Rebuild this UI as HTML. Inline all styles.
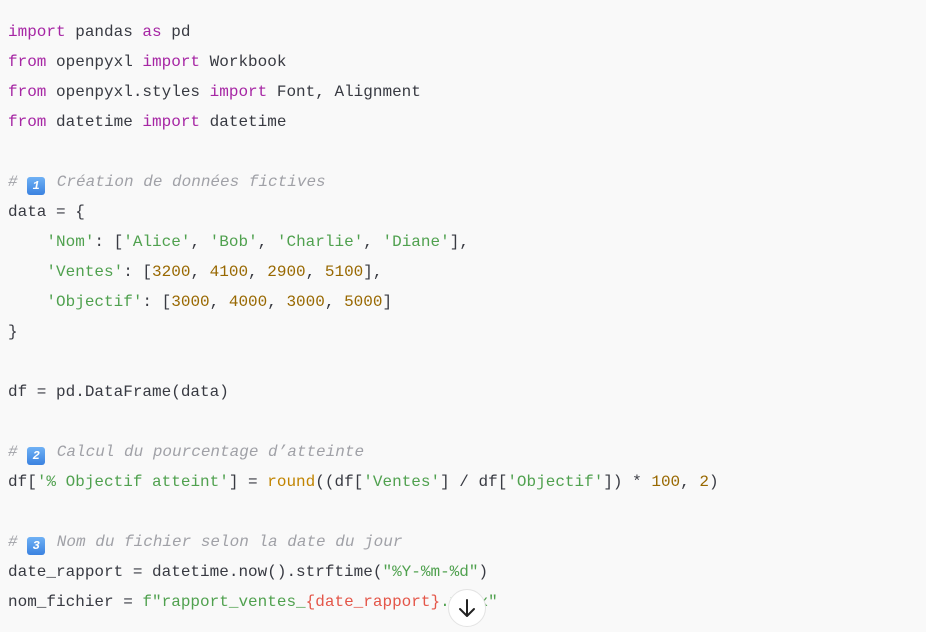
<!DOCTYPE html>
<html><head><meta charset="utf-8"><style>
body{margin:0;background:#f9f9f9;width:926px;height:632px;overflow:hidden;position:relative}
pre{position:absolute;left:8px;top:17px;margin:0;font-family:"Liberation Mono",monospace;font-size:16px;line-height:30px;color:#383a42}
.k{color:#a626a4}.s{color:#50a14f}.n{color:#986801}.c{color:#a0a1a7;font-style:italic}.r{color:#e45649}.f{color:#c18401}
.e{display:inline-block;width:18px;height:18px;background:linear-gradient(#6fb1f5,#3b82e0);color:#fff;font-style:italic;font-weight:bold;font-size:12px;line-height:18px;text-align:center;border-radius:3px;vertical-align:-3px;margin-right:2px}
.btn{position:absolute;left:448px;top:589px;width:38px;height:38px;border-radius:50%;background:#fff;border:1px solid #e3e3e3;box-sizing:border-box}
</style></head><body>
<pre><span class="k">import</span> pandas <span class="k">as</span> pd
<span class="k">from</span> openpyxl <span class="k">import</span> Workbook
<span class="k">from</span> openpyxl.styles <span class="k">import</span> Font, Alignment
<span class="k">from</span> datetime <span class="k">import</span> datetime

<span class="c"># <span class="e">1</span> Création de données fictives</span>
data = {
    <span class="s">'Nom'</span>: [<span class="s">'Alice'</span>, <span class="s">'Bob'</span>, <span class="s">'Charlie'</span>, <span class="s">'Diane'</span>],
    <span class="s">'Ventes'</span>: [<span class="n">3200</span>, <span class="n">4100</span>, <span class="n">2900</span>, <span class="n">5100</span>],
    <span class="s">'Objectif'</span>: [<span class="n">3000</span>, <span class="n">4000</span>, <span class="n">3000</span>, <span class="n">5000</span>]
}

df = pd.DataFrame(data)

<span class="c"># <span class="e">2</span> Calcul du pourcentage d’atteinte</span>
df[<span class="s">'% Objectif atteint'</span>] = <span class="f">round</span>((df[<span class="s">'Ventes'</span>] / df[<span class="s">'Objectif'</span>]) * <span class="n">100</span>, <span class="n">2</span>)

<span class="c"># <span class="e">3</span> Nom du fichier selon la date du jour</span>
date_rapport = datetime.now().strftime(<span class="s">"%Y-%m-%d"</span>)
nom_fichier = <span class="s">f"rapport_ventes_<span class="r">{date_rapport}</span>.xlsx"</span></pre>
<div class="btn"><svg width="36" height="36" viewBox="0 0 36 36"><path d="M18 10v16M11 19l7 7 7-7" stroke="#222" stroke-width="2" fill="none" stroke-linecap="round" stroke-linejoin="round"/></svg></div>
</body></html>
